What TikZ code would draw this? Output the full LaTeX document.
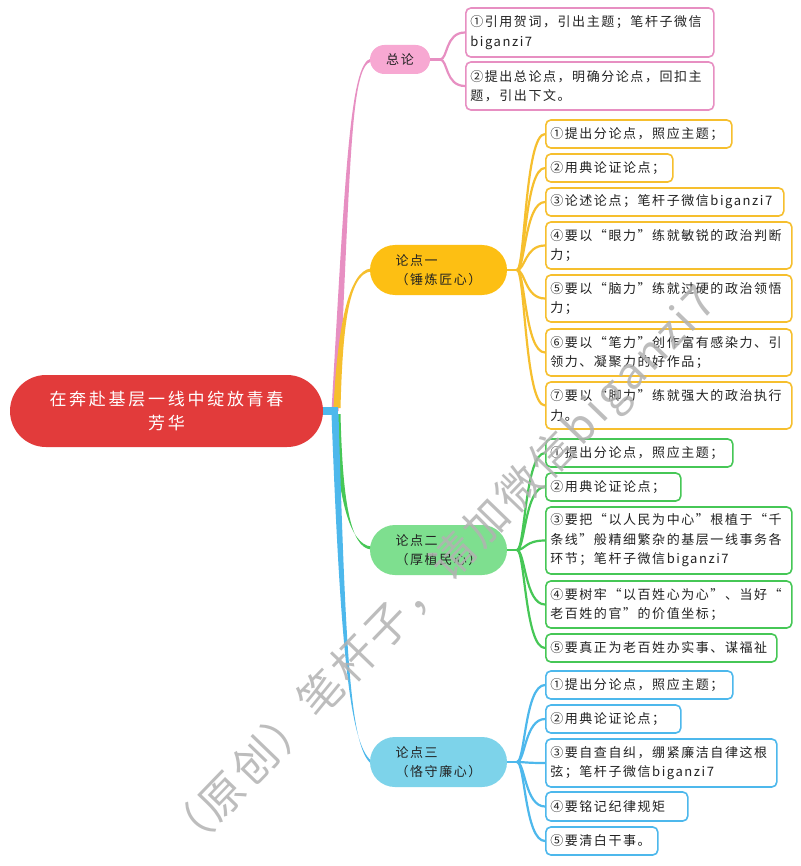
\documentclass[tikz,border=0pt]{standalone}
\usepackage{fontspec}
\setmainfont{Noto Sans CJK SC}
\newfontfamily\leaffont[LetterSpace=12]{Noto Sans CJK SC}
\newfontfamily\rootfont[LetterSpace=16]{Noto Sans CJK SC}
\newfontfamily\wmfont[LetterSpace=8]{Noto Sans CJK SC}
\definecolor{rootred}{HTML}{E23B3B}
\definecolor{pinkfill}{HTML}{F7A8D2}
\definecolor{pinkline}{HTML}{E78FC2}
\definecolor{yelfill}{HTML}{FDBF13}
\definecolor{yelline}{HTML}{F6BF2E}
\definecolor{grnfill}{HTML}{7EDF8F}
\definecolor{grnline}{HTML}{46C756}
\definecolor{blufill}{HTML}{7DD3EA}
\definecolor{bluline}{HTML}{4DB8EC}
\definecolor{txt}{HTML}{222222}
\tikzset{
  leaf/.style={draw=#1, line width=1.6pt, rounded corners=5pt, fill=white, anchor=west,
    align=left, inner xsep=4pt, inner ysep=0pt, text=txt,
    font=\leaffont\fontsize{13pt}{19.5pt}\selectfont},
  branch/.style={fill=#1, align=left, inner sep=0pt, text=txt,
    font=\leaffont\fontsize{13pt}{19pt}\selectfont},
  twig/.style={draw=#1, line width=2.2pt},
}
\newcommand\leafbox[7]{%
  \pgfmathsetmacro\lbtw{#5-9}%
  \node[leaf=#2, minimum width=#5pt, minimum height=#6pt, text width=\lbtw pt] (#1) at (#3,#4) {#7};}
\newcommand\twig[3]{%
  \draw[twig=#1] (#2) .. controls ([xshift=8pt]#2) and ([xshift=-20pt]#3.west) .. (#3.west);}
\newcommand\trunk[9]{% color, sx, sy, c1x, c1y, c2x, c2y, ex, ey
  \fill[#1] ({#2-3.5},#3) .. controls ({#4-2.6},#5) and (#6,{#7-1.6}) .. (#8,{#9-1.5})
    -- (#8,{#9+1.5}) .. controls (#6,{#7+1.6}) and ({#4+2.6},#5) .. ({#2+3.5},#3) -- cycle;}
\begin{document}
\begin{tikzpicture}[x=1pt,y=-1pt]
\useasboundingbox (0,0) rectangle (800,866);
\fill[white] (0,0) rectangle (800,866);
% trunks
\trunk{pinkline}{335}{411}{348}{170}{350}{65}{371}{60}
\trunk{yelline}{337}{408}{340}{330}{348}{272}{371}{270}
\trunk{grnline}{337}{414}{340}{500}{350}{546}{371}{548}
\trunk{bluline}{335}{414}{343}{650}{350}{745}{371}{762}
\fill[bluline] (320,407) rectangle (338,415);
% root
\node[rectangle, rounded corners=36pt, fill=rootred, minimum width=313pt, minimum height=72pt,
  text=white, align=center, inner sep=0pt, font=\rootfont\fontsize{17pt}{24pt}\selectfont]
  (root) at (166.5,411) {在奔赴基层一线中绽放青春\\芳华};
% branches
\node[branch=pinkfill, rounded corners=14.5pt, minimum width=60pt, minimum height=29pt] (zl) at (400,59.5) {总论};
\node[branch=yelfill, rounded corners=25pt, minimum width=137pt, minimum height=50pt] (b1) at (438.5,270) {论点一\\（锤炼匠心）};
\node[branch=grnfill, rounded corners=25pt, minimum width=137pt, minimum height=50pt] (b2) at (438.5,550) {论点二\\（厚植民心）};
\node[branch=blufill, rounded corners=25pt, minimum width=137pt, minimum height=50pt] (b3) at (438.5,762) {论点三\\（恪守廉心）};
\coordinate (s0) at (440,59.5);
\coordinate (s1) at (517,270);
\coordinate (s2) at (517,550);
\coordinate (s3) at (517,762);
% leaves: pink
\leafbox{p1}{pinkline}{465}{32.5}{248}{49}{①引用贺词，引出主题；笔杆子微信\\biganzi7}
\leafbox{p2}{pinkline}{465}{86}{248}{48}{②提出总论点，明确分论点，回扣主\\题，引出下文。}
% yellow
\leafbox{y1}{yelline}{545}{134}{186}{28}{①提出分论点，照应主题；}
\leafbox{y2}{yelline}{545}{168}{127}{28}{②用典论证论点；}
\leafbox{y3}{yelline}{545}{202}{238}{28}{③论述论点；笔杆子微信biganzi7}
\leafbox{y4}{yelline}{545}{245.5}{246}{47}{④要以“眼力”练就敏锐的政治判断\\力；}
\leafbox{y5}{yelline}{545}{298.5}{246}{47}{⑤要以“脑力”练就过硬的政治领悟\\力；}
\leafbox{y6}{yelline}{545}{352.5}{246}{47}{⑥要以“笔力”创作富有感染力、引\\领力、凝聚力的好作品；}
\leafbox{y7}{yelline}{545}{405.5}{246}{47}{⑦要以“脚力”练就强大的政治执行\\力。}
% green
\leafbox{g1}{grnline}{545}{453}{187}{28}{①提出分论点，照应主题；}
\leafbox{g2}{grnline}{545}{487}{135}{28}{②用典论证论点；}
\leafbox{g3}{grnline}{545}{540.5}{246}{67}{③要把“以人民为中心”根植于“千\\条线”般精细繁杂的基层一线事务各\\环节；笔杆子微信biganzi7}
\leafbox{g4}{grnline}{545}{604.5}{246}{47}{④要树牢“以百姓心为心”、当好“\\老百姓的官”的价值坐标；}
\leafbox{g5}{grnline}{545}{648}{231}{28}{⑤要真正为老百姓办实事、谋福祉}
% blue
\leafbox{c1}{bluline}{545}{685}{187}{28}{①提出分论点，照应主题；}
\leafbox{c2}{bluline}{545}{719}{135}{28}{②用典论证论点；}
\leafbox{c3}{bluline}{545}{763}{231}{48}{③要自查自纠，绷紧廉洁自律这根\\弦；笔杆子微信biganzi7}
\leafbox{c4}{bluline}{545}{806.5}{142}{29}{④要铭记纪律规矩}
\leafbox{c5}{bluline}{545}{841}{112}{28}{⑤要清白干事。}
% twigs
\draw[twig=pinkline] (zl.east) -- (s0);
\twig{pinkline}{s0}{p1}\twig{pinkline}{s0}{p2}
\draw[twig=yelline] (b1.east) -- (s1);
\foreach \n in {y1,y2,y3,y4,y5,y6,y7} {\twig{yelline}{s1}{\n}}
\draw[twig=grnline] (b2.east) -- (s2);
\foreach \n in {g1,g2,g3,g4,g5} {\twig{grnline}{s2}{\n}}
\draw[twig=bluline] (b3.east) -- (s3);
\foreach \n in {c1,c2,c3,c4,c5} {\twig{bluline}{s3}{\n}}
% watermark
\node[rotate=46, text=black!30, opacity=0.85, inner sep=0pt,
  font=\wmfont\fontsize{44pt}{44pt}\selectfont] (wm) at (442,572) {（原创）笔杆子，请加微信biganzi7};
\end{tikzpicture}
\end{document}
